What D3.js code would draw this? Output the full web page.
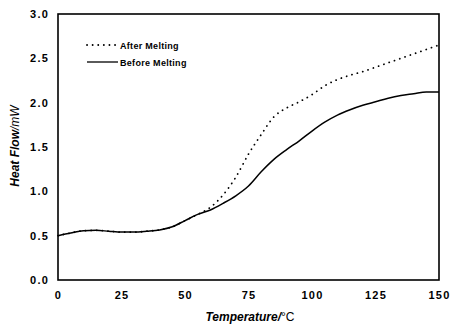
<!DOCTYPE html>
<html>
<head>
<meta charset="utf-8">
<script src="https://cdn.jsdelivr.net/npm/d3@7"></script>
<style>
	html, body { margin: 0; padding: 0; background: #fff; }
	svg { display: block; font-family: "Liberation Sans", Arial, sans-serif; }
	.tick text { font-weight: bold; font-size: 11px; letter-spacing: 1.2px; fill: #000; }
</style>
</head>
<body>
<div id="chart"></div>
<script>
// temperature (°C) sample points
var temps = [0, 5, 10, 15, 20, 25, 30, 35, 40, 45, 50, 55, 60, 65, 70, 75, 80, 85, 90, 95, 100, 105, 110, 115, 120, 125, 130, 135, 140, 145, 150];
// heat flow (mW) before melting
var beforeMelting = [0.50, 0.53, 0.555, 0.56, 0.55, 0.54, 0.54, 0.55, 0.565, 0.60, 0.67, 0.74, 0.79, 0.865, 0.95, 1.06, 1.22, 1.36, 1.47, 1.57, 1.68, 1.78, 1.86, 1.92, 1.97, 2.01, 2.05, 2.08, 2.10, 2.12, 2.12];
// heat flow (mW) after melting
var afterMelting = [0.50, 0.53, 0.555, 0.56, 0.55, 0.54, 0.54, 0.55, 0.565, 0.60, 0.67, 0.74, 0.82, 0.96, 1.16, 1.42, 1.64, 1.84, 1.94, 2.01, 2.09, 2.19, 2.26, 2.31, 2.35, 2.40, 2.45, 2.50, 2.55, 2.60, 2.65];
var xTicks = [0, 25, 50, 75, 100, 125, 150];
var yTicks = [0, 0.5, 1.0, 1.5, 2.0, 2.5, 3.0];
var seriesNames = ["After Melting", "Before Melting"];

var width = 452,
	height = 325,
	margin = {top: 14, right: 13, bottom: 45, left: 58};

var svg = d3.select("#chart").append("svg")
	.attr("width", width)
	.attr("height", height);

var x = d3.scaleLinear().domain([0, 150]).range([margin.left, width - margin.right]);
var y = d3.scaleLinear().domain([0, 3]).range([height - margin.bottom, margin.top]);

// axes (labels only, no tick marks)
var xAxis = svg.append("g")
	.attr("transform", "translate(0," + (height - margin.bottom) + ")")
	.call(d3.axisBottom(x).tickValues(xTicks).tickSize(0).tickPadding(11).tickFormat(d3.format("d")));
xAxis.select(".domain").remove();

var yAxis = svg.append("g")
	.attr("transform", "translate(" + margin.left + ",0)")
	.call(d3.axisLeft(y).tickValues(yTicks).tickSize(0).tickPadding(9).tickFormat(d3.format(".1f")));
yAxis.select(".domain").remove();

var line = function(vals) {
	return d3.line()
		.x(function(d, i) { return x(temps[i]); })
		.y(function(d) { return y(d); })
		.curve(d3.curveMonotoneX)(vals);
};

svg.append("path")
	.attr("d", line(afterMelting))
	.attr("fill", "none")
	.attr("stroke", "#000")
	.attr("stroke-width", 1.8)
	.attr("stroke-linecap", "round")
	.attr("stroke-dasharray", "0.1,5.5");

svg.append("path")
	.attr("d", line(beforeMelting))
	.attr("fill", "none")
	.attr("stroke", "#000")
	.attr("stroke-width", 1.5);

// frame
svg.append("rect")
	.attr("x", margin.left)
	.attr("y", margin.top)
	.attr("width", width - margin.left - margin.right)
	.attr("height", height - margin.top - margin.bottom)
	.attr("fill", "none")
	.attr("stroke", "#000")
	.attr("stroke-width", 1.6);

// legend
var legend = svg.append("g");
seriesNames.forEach(function(name, i) {
	var ly = 45 + i * 17;
	legend.append("line")
		.attr("x1", 87).attr("x2", 118)
		.attr("y1", ly).attr("y2", ly)
		.attr("stroke", "#000")
		.attr("stroke-width", i == 0 ? 1.8 : 1.3)
		.attr("stroke-linecap", i == 0 ? "round" : "butt")
		.attr("stroke-dasharray", i == 0 ? "0.1,5.5" : null);
	legend.append("text")
		.attr("x", 120)
		.attr("y", ly + 3.5)
		.attr("font-size", 9)
		.attr("font-weight", "bold")
		.attr("letter-spacing", "0.3px")
		.text(name);
});

// axis titles
var xt = svg.append("text")
	.attr("x", 250)
	.attr("y", 321)
	.attr("text-anchor", "middle")
	.attr("font-size", 12);
xt.append("tspan").attr("font-weight", "bold").attr("font-style", "italic").text("Temperature/");
xt.append("tspan").text("°C");

var yt = svg.append("text")
	.attr("transform", "translate(19,146) rotate(-90)")
	.attr("text-anchor", "middle")
	.attr("font-size", 12)
	.attr("font-style", "italic");
yt.append("tspan").attr("font-weight", "bold").text("Heat Flow");
yt.append("tspan").text("/mW");
</script>
</body>
</html>
